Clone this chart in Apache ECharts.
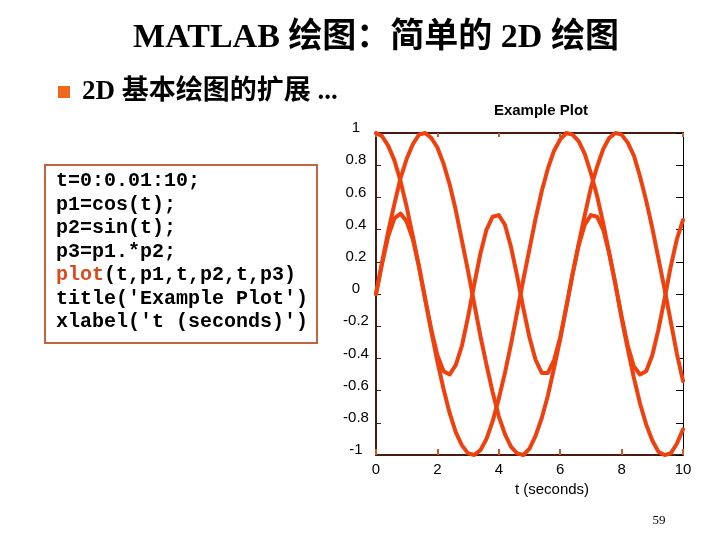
<!DOCTYPE html>
<html>
<head>
<meta charset="utf-8">
<script src="https://cdn.jsdelivr.net/npm/echarts@6/dist/echarts.min.js"></script>
<style>
html,body{margin:0;padding:0;background:#fff;}
#main{width:720px;height:540px;}
</style>
</head>
<body>
<div id="main"></div>
<script>
// Sample times (seconds), every 0.2 s
const tValues = [0,0.2,0.4,0.6,0.8,1,1.2,1.4,1.6,1.8,2,2.2,2.4,2.6,2.8,3,3.2,3.4,3.6,3.8,4,4.2,4.4,4.6,4.8,5,5.2,5.4,5.6,5.8,6,6.2,6.4,6.6,6.8,7,7.2,7.4,7.6,7.8,8,8.2,8.4,8.6,8.8,9,9.2,9.4,9.6,9.8,10];
// p1 = cos(t)
const p1 = [1.00,0.98,0.92,0.83,0.70,0.54,0.36,0.17,-0.03,-0.23,-0.42,-0.59,-0.74,-0.86,-0.94,-0.99,-1.00,-0.97,-0.90,-0.79,-0.65,-0.49,-0.31,-0.11,0.09,0.28,0.47,0.64,0.78,0.89,0.96,1.00,0.99,0.95,0.87,0.75,0.61,0.44,0.25,0.06,-0.15,-0.34,-0.52,-0.68,-0.81,-0.91,-0.98,-1.00,-0.99,-0.93,-0.84];
// p2 = sin(t)
const p2 = [0.00,0.20,0.39,0.56,0.72,0.84,0.93,0.99,1.00,0.97,0.91,0.81,0.68,0.52,0.33,0.14,-0.06,-0.26,-0.44,-0.61,-0.76,-0.87,-0.95,-0.99,-1.00,-0.96,-0.88,-0.77,-0.63,-0.46,-0.28,-0.08,0.12,0.31,0.49,0.66,0.79,0.90,0.97,1.00,0.99,0.94,0.86,0.73,0.58,0.41,0.22,0.03,-0.17,-0.37,-0.54];
// p3 = p1.*p2
const p3 = [0.00,0.19,0.36,0.47,0.50,0.45,0.34,0.17,-0.03,-0.22,-0.38,-0.48,-0.50,-0.44,-0.32,-0.14,0.06,0.25,0.40,0.48,0.49,0.43,0.29,0.11,-0.09,-0.27,-0.41,-0.49,-0.49,-0.41,-0.27,-0.08,0.12,0.30,0.43,0.49,0.48,0.40,0.25,0.06,-0.14,-0.32,-0.45,-0.50,-0.48,-0.38,-0.22,-0.03,0.17,0.34,0.46];

const slideTitle = 'MATLAB 绘图：简单的 2D 绘图';
const bulletText = '2D 基本绘图的扩展 ...';
const plotTitle = 'Example Plot';
const xLabel = 't (seconds)';
const pageNumber = '59';
const codeLines = [
  't=0:0.01:10;',
  'p1=cos(t);',
  'p2=sin(t);',
  'p3=p1.*p2;',
  '{k|plot}(t,p1,t,p2,t,p3)',
  "title('Example Plot')",
  "xlabel('t (seconds)')"
];

const lineColor = '#f0400e';
const frameColor = '#4a1a10';
const chart = echarts.init(document.getElementById('main'));

const seriesOf = arr => ({
  type: 'line',
  data: tValues.map((t, i) => [t, arr[i]]),
  smooth: false,
  showSymbol: false,
  lineStyle: {color: lineColor, width: 4, join: 'round', cap: 'round'},
  itemStyle: {color: lineColor},
  z: 3
});

const graphics = [];
graphics.push({
  type: 'text', x: 376, y: 38,
  style: {text: slideTitle, font: 'bold 34px "Liberation Serif", "Noto Sans CJK SC", serif', fill: '#000', align: 'center', verticalAlign: 'middle'}
});
graphics.push({
  type: 'rect', shape: {x: 58, y: 86, width: 12, height: 12},
  style: {fill: '#f06a1e'}
});
graphics.push({
  type: 'text', x: 82, y: 92,
  style: {text: bulletText, font: 'bold 27px "Liberation Serif", "Noto Sans CJK SC", serif', fill: '#000', verticalAlign: 'middle'}
});
graphics.push({
  type: 'rect', shape: {x: 45, y: 165, width: 272, height: 178},
  style: {fill: '#fff', stroke: '#c2643e', lineWidth: 2}
});
codeLines.forEach((ln, i) => {
  graphics.push({
    type: 'text', x: 56, y: 181 + i * 23.5,
    style: {
      text: ln,
      font: 'bold 20px "Liberation Mono", "DejaVu Sans Mono", monospace',
      fill: '#000',
      verticalAlign: 'middle',
      rich: {k: {fill: '#e04a1a', font: 'bold 20px "Liberation Mono", monospace'}}
    }
  });
});
graphics.push({
  type: 'text', x: 541, y: 111,
  style: {text: plotTitle, font: 'bold 15px "Liberation Sans", Arial, sans-serif', fill: '#000', align: 'center', verticalAlign: 'middle'}
});
graphics.push({
  type: 'text', x: 552, y: 490,
  style: {text: xLabel, font: '15px "Liberation Sans", Arial, sans-serif', fill: '#000', align: 'center', verticalAlign: 'middle'}
});
graphics.push({
  type: 'text', x: 659, y: 521,
  style: {text: pageNumber, font: '13px "Liberation Serif", serif', fill: '#000', align: 'center', verticalAlign: 'middle'}
});

chart.setOption({
  backgroundColor: '#fff',
  animation: false,
  grid: {left: 376, right: 37, top: 133, bottom: 85, containLabel: false},
  xAxis: [{
    type: 'value', min: 0, max: 10, interval: 2, position: 'bottom',
    axisLine: {show: true, onZero: false, lineStyle: {color: frameColor, width: 2}},
    axisTick: {show: true, inside: true, length: 6, lineStyle: {color: '#d9531e', width: 2}},
    axisLabel: {color: '#000', fontSize: 15, fontFamily: '"Liberation Sans", Arial, sans-serif', margin: 7},
    splitLine: {show: false}
  }, {
    type: 'value', min: 0, max: 10, interval: 2, position: 'top',
    axisLine: {show: true, onZero: false, lineStyle: {color: frameColor, width: 2}},
    axisTick: {show: true, inside: true, length: 4, lineStyle: {color: '#c0603a', width: 2}},
    axisLabel: {show: false}, splitLine: {show: false}
  }],
  yAxis: [{
    type: 'value', min: -1, max: 1, interval: 0.2, position: 'left',
    axisLine: {show: true, onZero: false, lineStyle: {color: frameColor, width: 2}},
    axisTick: {show: true, inside: true, length: 5, lineStyle: {color: frameColor}},
    axisLabel: {color: '#000', fontSize: 15, fontFamily: '"Liberation Sans", Arial, sans-serif', align: 'center', verticalAlign: 'bottom', lineHeight: 10, margin: 20},
    splitLine: {show: false}
  }, {
    type: 'value', min: -1, max: 1, interval: 0.2, position: 'right',
    axisLine: {show: true, onZero: false, lineStyle: {color: '#000', width: 1}},
    axisTick: {show: true, inside: true, length: 7, lineStyle: {color: '#000'}},
    axisLabel: {show: false}, splitLine: {show: false}
  }],
  series: [seriesOf(p1), seriesOf(p2), seriesOf(p3)],
  graphic: graphics
});
</script>
</body>
</html>
